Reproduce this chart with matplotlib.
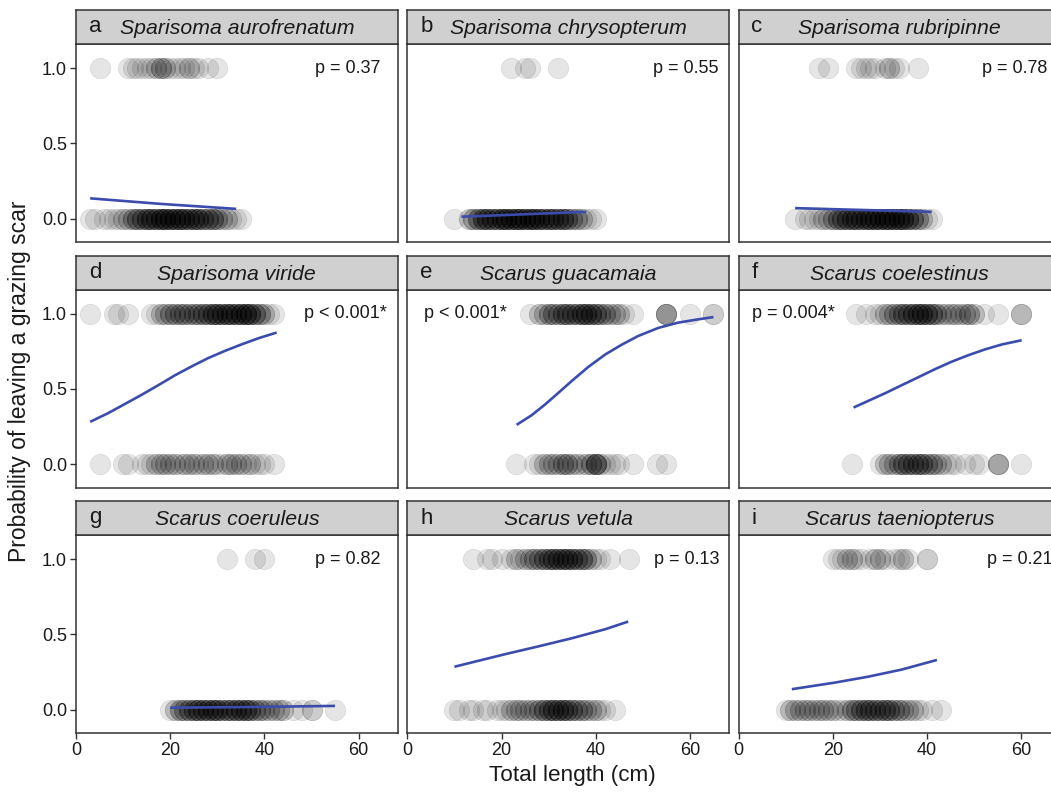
import numpy as np
import matplotlib
matplotlib.use("Agg")
import matplotlib.pyplot as plt

plt.rcParams['font.family'] = ['Liberation Sans', 'DejaVu Sans']

# ---------------- data ----------------
letters = ["a", "b", "c", "d", "e", "f", "g", "h", "i"]
species = ["Sparisoma aurofrenatum", "Sparisoma chrysopterum", "Sparisoma rubripinne",
           "Sparisoma viride", "Scarus guacamaia", "Scarus coelestinus",
           "Scarus coeruleus", "Scarus vetula", "Scarus taeniopterus"]
p_labels = ["p = 0.37", "p = 0.55", "p = 0.78", "p < 0.001*", "p < 0.001*",
            "p = 0.004*", "p = 0.82", "p = 0.13", "p = 0.21"]
p_label_x = [57.7, 59.1, 58.6, 57.3, 12.4, 11.6, 57.7, 59.4, 59.7]

# total lengths (cm) of fish that left a scar (1) / no scar (0), with counts
a_x1 = [5, 11, 12, 13, 14, 15, 16, 17, 18, 19, 20, 21, 22, 23, 24, 25, 26, 28, 30]
a_n1 = [1, 1, 1, 1, 1, 1, 1, 2, 3, 2, 1, 1, 1, 1, 2, 1, 1, 1, 1]
a_x0 = [3, 4, 6, 7, 8, 9, 10, 11, 12, 13, 14, 15, 16, 17, 18, 19, 20, 21, 22, 23,
        24, 25, 26, 27, 28, 29, 30, 31, 32, 33, 34, 35]
a_n0 = [1, 1, 1, 1, 1, 1, 2, 2, 3, 4, 4, 5, 5, 5, 6, 6, 6, 6, 6, 5,
        5, 5, 5, 4, 4, 4, 3, 2, 2, 1, 1, 1]
a_fit_x = [3, 18, 34]
a_fit_y = [0.135, 0.098, 0.065]

b_x1 = [22, 25, 26, 32]
b_n1 = [1, 1, 1, 1]
b_x0 = [10, 13, 14, 15, 16, 17, 18, 19, 20, 21, 22, 23, 24, 25, 26, 27, 28, 29, 30,
        31, 32, 33, 34, 35, 36, 37, 38, 39, 40]
b_n0 = [1, 2, 3, 4, 5, 5, 5, 5, 6, 6, 6, 6, 6, 6, 6, 6, 6, 5, 5,
        5, 5, 5, 4, 3, 3, 2, 1, 1, 1]
b_fit_x = [11.5, 38]
b_fit_y = [0.013, 0.045]

c_x1 = [17, 19, 25, 26, 27, 28, 29, 31, 32, 33, 34, 38]
c_n1 = [1, 1, 1, 1, 1, 1, 1, 1, 2, 1, 1, 1]
c_x0 = [12, 14, 15, 16, 17, 18, 19, 20, 21, 22, 23, 24, 25, 26, 27, 28, 29, 30, 31,
        32, 33, 34, 35, 36, 37, 38, 39, 40, 41]
c_n0 = [1, 1, 1, 1, 1, 2, 2, 3, 4, 4, 5, 5, 5, 5, 5, 6, 6, 6, 6,
        6, 6, 6, 6, 5, 4, 3, 2, 1, 1]
c_fit_x = [12, 41]
c_fit_y = [0.07, 0.045]

d_x1 = [3, 8, 9, 11, 16, 17, 18, 19, 20, 21, 22, 23, 24, 25, 26, 27, 28, 29, 30, 31,
        32, 33, 34, 35, 36, 37, 38, 39, 40, 41, 42]
d_n1 = [1, 1, 1, 1, 1, 1, 2, 2, 3, 3, 3, 3, 3, 3, 3, 4, 4, 5, 5, 5,
        5, 5, 5, 6, 6, 5, 4, 3, 2, 1, 1]
d_x0 = [5, 10, 11, 14, 15, 16, 17, 18, 19, 20, 21, 22, 23, 24, 25, 26, 27, 28, 29, 30,
        31, 32, 33, 34, 35, 36, 37, 38, 39, 40, 42]
d_n0 = [1, 1, 1, 1, 1, 1, 2, 2, 2, 2, 2, 1, 2, 2, 2, 1, 2, 2, 2, 1,
        1, 2, 2, 2, 2, 1, 2, 1, 1, 1, 1]
d_fit_x = [3.0, 6.9, 10.4, 13.9, 17.5, 21.0, 24.6, 28.1, 31.6, 35.2, 38.7, 42.6]
d_fit_y = [0.281, 0.340, 0.400, 0.460, 0.525, 0.590, 0.650, 0.705, 0.752, 0.796,
           0.836, 0.874]

e_x1 = [26, 28, 29, 30, 31, 32, 33, 34, 35, 36, 37, 38, 39, 40, 41, 42, 43, 44, 45, 46,
        48, 55, 60, 65]
e_n1 = [1, 2, 2, 3, 3, 3, 4, 4, 4, 4, 5, 5, 5, 4, 3, 3, 2, 2, 2, 1,
        1, 5, 1, 2]
e_x0 = [23, 27, 28, 29, 30, 31, 32, 33, 34, 35, 36, 37, 38, 39, 40, 41, 42, 43, 44, 45,
        48, 53, 55]
e_n0 = [1, 1, 1, 2, 2, 2, 2, 3, 3, 2, 2, 1, 2, 3, 6, 2, 1, 1, 1, 1,
        1, 1, 1]
e_fit_x = [23.2, 26.4, 29.2, 31.4, 34.9, 38.4, 42.0, 45.5, 49.0, 53.3, 57.5, 61.8, 65.0]
e_fit_y = [0.261, 0.325, 0.395, 0.455, 0.552, 0.645, 0.728, 0.793, 0.851, 0.905,
           0.940, 0.962, 0.977]

f_x1 = [25, 27, 29, 30, 31, 32, 33, 34, 35, 36, 37, 38, 39, 40, 41, 42, 43, 44, 45, 46,
        47, 48, 49, 50, 52, 55, 60]
f_n1 = [1, 1, 1, 1, 2, 2, 3, 3, 4, 4, 5, 5, 5, 5, 4, 3, 2, 2, 2, 2,
        2, 2, 3, 2, 1, 1, 3]
f_x0 = [24, 30, 31, 32, 33, 34, 35, 36, 37, 38, 39, 40, 41, 42, 43, 44, 45, 46,
        48, 50, 51, 55, 60]
f_n0 = [1, 1, 2, 2, 2, 3, 4, 4, 4, 4, 4, 3, 3, 2, 2, 1, 1, 1,
        1, 1, 1, 4, 1]
f_fit_x = [24.4, 27.5, 31.1, 34.6, 38.2, 41.7, 45.2, 48.8, 52.3, 55.9, 60.1]
f_fit_y = [0.376, 0.420, 0.471, 0.524, 0.578, 0.631, 0.680, 0.724, 0.762, 0.795, 0.823]

g_x1 = [32, 38, 40]
g_n1 = [1, 1, 1]
g_x0 = [20, 21, 22, 23, 24, 25, 26, 27, 28, 29, 30, 31, 32, 33, 34, 35, 36, 37, 38, 39,
        40, 41, 42, 43, 44, 46, 48, 50, 55]
g_n0 = [1, 2, 3, 3, 4, 4, 5, 5, 5, 5, 5, 4, 4, 4, 5, 5, 5, 4, 3, 3,
        2, 2, 2, 2, 2, 1, 1, 2, 1]
g_fit_x = [20, 38, 55]
g_fit_y = [0.013, 0.018, 0.025]

h_x1 = [14, 17, 18, 20, 22, 23, 24, 25, 26, 27, 28, 29, 30, 31, 32, 33, 34, 35, 36, 37,
        38, 39, 40, 41, 43, 47]
h_n1 = [1, 1, 1, 1, 1, 2, 1, 2, 2, 3, 3, 4, 4, 5, 5, 5, 5, 5, 4, 4,
        3, 2, 1, 1, 1, 1]
h_x0 = [10, 11, 13, 14, 16, 17, 19, 20, 21, 22, 23, 24, 25, 26, 27, 28, 29, 30, 31, 32,
        33, 34, 35, 36, 37, 38, 39, 40, 41, 42, 44]
h_n0 = [1, 1, 1, 1, 1, 1, 1, 1, 1, 2, 2, 2, 2, 2, 2, 3, 4, 4, 5, 5,
        5, 4, 4, 3, 3, 2, 2, 2, 1, 1, 1]
h_fit_x = [10.0, 20.7, 27.8, 34.9, 42.0, 46.9]
h_fit_y = [0.285, 0.368, 0.420, 0.474, 0.534, 0.585]

i_x1 = [20, 21, 22, 23, 24, 25, 26, 28, 29, 30, 31, 33, 34, 35, 36, 40]
i_n1 = [1, 1, 1, 2, 2, 1, 1, 1, 2, 2, 1, 1, 1, 2, 1, 2]
i_x0 = [10, 11, 12, 13, 14, 15, 16, 17, 18, 19, 20, 21, 22, 23, 24, 25, 26, 27, 28, 29,
        30, 31, 32, 33, 34, 35, 36, 37, 38, 39, 41, 43]
i_n0 = [1, 2, 2, 2, 2, 2, 2, 2, 2, 2, 2, 1, 1, 2, 3, 3, 4, 4, 4, 4,
        4, 4, 4, 3, 3, 2, 2, 2, 1, 1, 1, 1]
i_fit_x = [11.3, 20.5, 27.5, 34.6, 42.1]
i_fit_y = [0.136, 0.180, 0.219, 0.266, 0.330]

x_ticks = [0, 20, 40, 60]
y_ticks = [0.0, 0.5, 1.0]
y_tick_labels = ["0.0", "0.5", "1.0"]

panels = [
    (a_x1, a_n1, a_x0, a_n0, a_fit_x, a_fit_y),
    (b_x1, b_n1, b_x0, b_n0, b_fit_x, b_fit_y),
    (c_x1, c_n1, c_x0, c_n0, c_fit_x, c_fit_y),
    (d_x1, d_n1, d_x0, d_n0, d_fit_x, d_fit_y),
    (e_x1, e_n1, e_x0, e_n0, e_fit_x, e_fit_y),
    (f_x1, f_n1, f_x0, f_n0, f_fit_x, f_fit_y),
    (g_x1, g_n1, g_x0, g_n0, g_fit_x, g_fit_y),
    (h_x1, h_n1, h_x0, h_n0, h_fit_x, h_fit_y),
    (i_x1, i_n1, i_x0, i_n0, i_fit_x, i_fit_y),
]

# ---------------- layout ----------------
W, H = 1051, 793
fig = plt.figure(figsize=(W / 100, H / 100), dpi=100)
fig.patch.set_facecolor("white")

col_left = [76, 407.3, 738.6]
pw = 321.7
row_bottom = [242, 487.5, 733]
ph = 198
sh = 34

edge_col = "#333333"
text_col = "#1a1a1a"
point_rgba = (0, 0, 0, 0.10)
line_col = "#3b4cad"

for k, (x1, n1, x0, n0, fx, fy) in enumerate(panels):
    r, c = divmod(k, 3)
    left = col_left[c] / W
    bottom = (H - row_bottom[r]) / H
    ax = fig.add_axes([left, bottom, pw / W, ph / H])
    sax = fig.add_axes([left, bottom + ph / H, pw / W, sh / H])

    xs1 = np.repeat(np.array(x1, float), n1)
    xs0 = np.repeat(np.array(x0, float), n0)
    ax.scatter(xs1, np.ones_like(xs1), s=215, color=point_rgba,
               edgecolors=[(0, 0, 0, 0.11)], linewidths=0.5, zorder=2)
    ax.scatter(xs0, np.zeros_like(xs0), s=215, color=point_rgba,
               edgecolors=[(0, 0, 0, 0.11)], linewidths=0.5, zorder=2)
    ax.plot(fx, fy, color=line_col, lw=1.9, zorder=3, solid_capstyle="butt",
            solid_joinstyle="round")

    ax.text(p_label_x[k], 1.0, p_labels[k], ha="center", va="center",
            fontsize=13, color=text_col, zorder=4)

    ax.set_xlim(0, 68.3)
    ax.set_ylim(-0.155, 1.16)
    for sp in ax.spines.values():
        sp.set_color(edge_col)
        sp.set_linewidth(1.1)
    ax.tick_params(axis="both", colors=edge_col, width=1.0, length=4,
                   labelsize=13, labelcolor=text_col, pad=2.5)
    if c == 0:
        ax.set_yticks(y_ticks)
        ax.set_yticklabels(y_tick_labels)
    else:
        ax.set_yticks([])
    if r == 2:
        ax.set_xticks(x_ticks)
        ax.set_xticklabels([str(t) for t in x_ticks])
    else:
        ax.set_xticks([])

    # strip
    sax.set_facecolor("#d0d0d0")
    sax.set_xticks([])
    sax.set_yticks([])
    for sp in sax.spines.values():
        sp.set_color(edge_col)
        sp.set_linewidth(1.1)
    sax.text(0.04, 0.5, letters[k], transform=sax.transAxes, ha="left",
             va="center", fontsize=16, color=text_col)
    sax.text(0.5, 0.45, species[k], transform=sax.transAxes, ha="center",
             va="center", fontsize=15.3, style="italic", color=text_col)

fig.text(572 / W, 1 - 776 / H, "Total length (cm)", ha="center", va="center",
         fontsize=16.2, color=text_col)
fig.text(20 / W, 1 - 381 / H, "Probability of leaving a grazing scar",
         ha="center", va="center", rotation=90, fontsize=16.5, color=text_col)

fig.savefig("out.png", dpi=100, facecolor="white")
